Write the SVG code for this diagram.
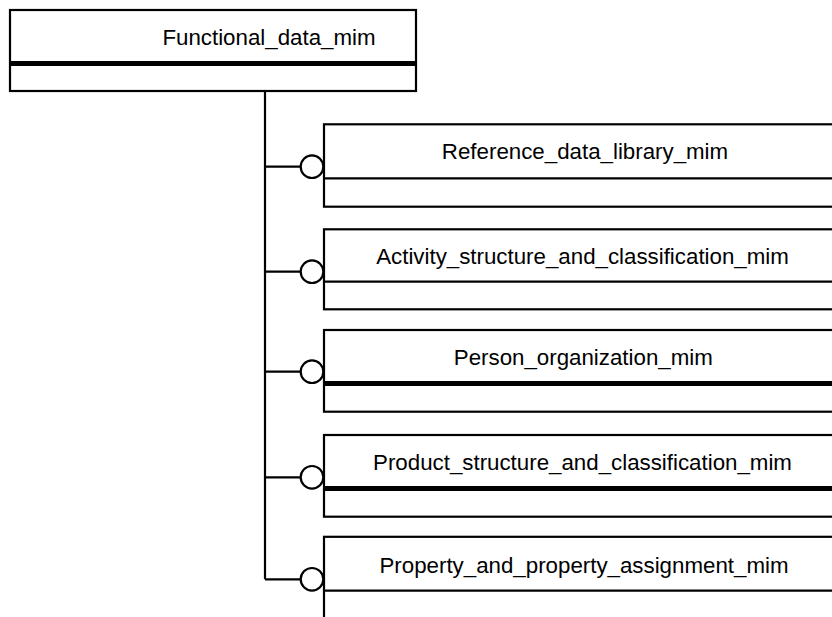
<svg xmlns="http://www.w3.org/2000/svg" width="832" height="617" viewBox="0 0 832 617">
<style>
.box{fill:#fff;stroke:#000;stroke-width:2.2}
.thin{stroke:#000;stroke-width:2.2}
.thick{stroke:#000;stroke-width:5}
.lbl{font-family:"Liberation Sans",Arial,sans-serif;font-size:22.3px;fill:#000;text-anchor:middle}
.conn{fill:none;stroke:#000;stroke-width:2.2}
.ball{fill:#fff;stroke:#000;stroke-width:2.2}
</style>
<rect width="832" height="617" fill="#fff"/>
<g id="connectors">
<path class="conn" d="M265,91 V579.3 M265,166.7 H300.5 M265,271.7 H300.5 M265,371.7 H300.5 M265,477.3 H300.5 M265,579.3 H300.5"/>
</g>
<g id="Functional_data_mim">
<rect class="box" x="10" y="10" width="406" height="81"/>
<line class="thick" x1="10" y1="63.5" x2="416" y2="63.5"/>
<text class="lbl" x="269" y="45">Functional_data_mim</text>
</g>
<g id="Reference_data_library_mim">
<rect class="box" x="324" y="124.3" width="530" height="82.4"/>
<line class="thin" x1="324" y1="178.3" x2="854" y2="178.3"/>
<text class="lbl" x="585" y="159.3">Reference_data_library_mim</text>
<circle class="ball" cx="312" cy="166.7" r="11.3"/>
</g>
<g id="Activity_structure_and_classification_mim">
<rect class="box" x="324" y="229.3" width="530" height="80"/>
<line class="thin" x1="324" y1="281.7" x2="854" y2="281.7"/>
<text class="lbl" x="582.5" y="263.8">Activity_structure_and_classification_mim</text>
<circle class="ball" cx="312" cy="271.7" r="11.3"/>
</g>
<g id="Person_organization_mim">
<rect class="box" x="324" y="330" width="530" height="81.7"/>
<line class="thick" x1="324" y1="383.5" x2="854" y2="383.5"/>
<text class="lbl" x="583.3" y="364.5">Person_organization_mim</text>
<circle class="ball" cx="312" cy="371.7" r="11.3"/>
</g>
<g id="Product_structure_and_classification_mim">
<rect class="box" x="324" y="435" width="530" height="81.7"/>
<line class="thick" x1="324" y1="488.5" x2="854" y2="488.5"/>
<text class="lbl" x="582.5" y="469.5">Product_structure_and_classification_mim</text>
<circle class="ball" cx="312" cy="477.3" r="11.3"/>
</g>
<g id="Property_and_property_assignment_mim">
<rect class="box" x="324" y="536.8" width="530" height="100"/>
<line class="thin" x1="324" y1="590.7" x2="854" y2="590.7"/>
<text class="lbl" x="584" y="572.5">Property_and_property_assignment_mim</text>
<circle class="ball" cx="312" cy="579.3" r="11.3"/>
</g>
</svg>
